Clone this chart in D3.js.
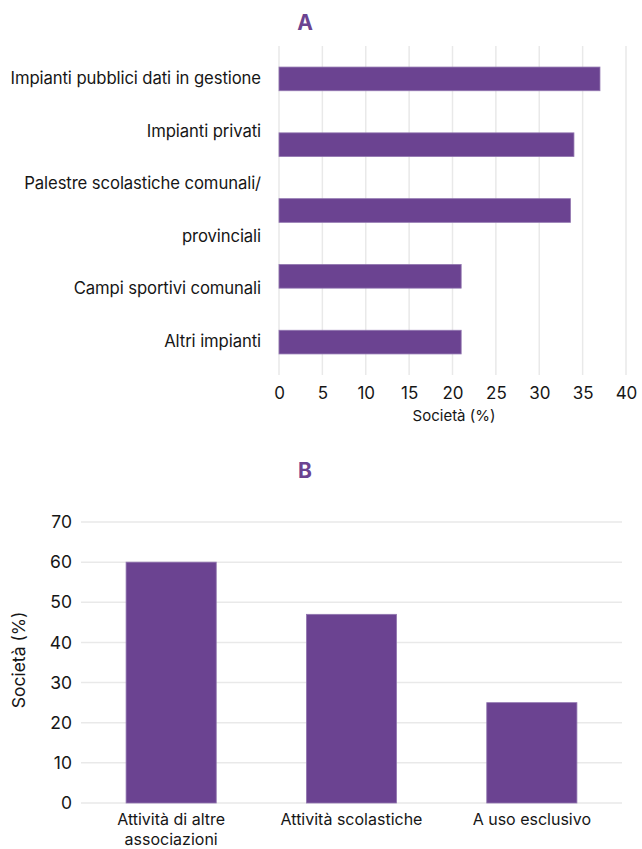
<!DOCTYPE html>
<html>
<head>
<meta charset="utf-8">
<script src="https://cdn.jsdelivr.net/npm/d3@7"></script>
<style>
  html, body { margin: 0; padding: 0; background: #fff; }
  svg { display: block; font-family: Inter, "Noto Sans", sans-serif; }
</style>
</head>
<body>
<svg id="chart" width="642" height="849"></svg>
<script>
// Panel A: facility types used by the clubs
const facilityLabels = [
  ["Impianti pubblici dati in gestione"],
  ["Impianti privati"],
  ["Palestre scolastiche comunali/", "provinciali"],
  ["Campi sportivi comunali"],
  ["Altri impianti"]
];
const facilityValues = [37, 34, 33.6, 21, 21];
const facilityTicks = [0, 5, 10, 15, 20, 25, 30, 35, 40];

// Panel B: type of use
const useLabels = [
  ["Attività di altre", "associazioni"],
  ["Attività scolastiche"],
  ["A uso esclusivo"]
];
const useValues = [60, 47, 25];
const useTicks = [0, 10, 20, 30, 40, 50, 60, 70];

const axisTitle = "Società (%)";

const barColor = "#6b4391";
const barEdge = "#9277b0";
const gridColor = "#e9e9e9";
const textColor = "#161616";

const svg = d3.select("#chart");

// ---------- Panel A ----------
const gA = svg.append("g");
gA.append("text")
  .attr("x", 305).attr("y", 30)
  .attr("text-anchor", "middle")
  .attr("font-size", 21).attr("font-weight", 700)
  .attr("fill", barColor)
  .text("A");

const xA = d3.scaleLinear().domain([0, 40]).range([279, 626]);
const yA = d3.scaleBand()
  .domain(d3.range(facilityValues.length))
  .range([46, 375])
  .paddingInner(0.64).paddingOuter(0.32);

gA.append("g").selectAll("line")
  .data(facilityTicks).join("line")
  .attr("x1", d => xA(d)).attr("x2", d => xA(d))
  .attr("y1", 46).attr("y2", 375)
  .attr("stroke", gridColor).attr("stroke-width", 1.5);

gA.append("g").selectAll("rect")
  .data(facilityValues).join("rect")
  .attr("x", xA(0))
  .attr("y", (d, i) => yA(i))
  .attr("width", d => xA(d) - xA(0))
  .attr("height", yA.bandwidth())
  .attr("fill", barColor)
  .attr("stroke", barEdge).attr("stroke-width", 0.8);

// category labels are stacked evenly as one text column
const labelLines = facilityLabels.flat();
const lineY = d3.scalePoint()
  .domain(d3.range(labelLines.length))
  .range([yA(0) + yA.bandwidth() / 2, yA(facilityValues.length - 1) + yA.bandwidth() / 2]);
gA.append("g").selectAll("text")
  .data(labelLines).join("text")
  .attr("x", 261)
  .attr("y", (d, i) => lineY(i))
  .attr("dy", "0.3em")
  .attr("text-anchor", "end")
  .attr("font-size", 16.7)
  .attr("letter-spacing", -0.1)
  .attr("fill", textColor)
  .text(d => d);

const axA = gA.append("g")
  .attr("transform", "translate(0,375)")
  .call(d3.axisBottom(xA).tickValues(facilityTicks).tickSize(0).tickPadding(12));
axA.select(".domain").remove();
axA.selectAll("text")
  .attr("font-size", 17).attr("fill", textColor)
  .attr("font-family", "Inter, sans-serif");

gA.append("text")
  .attr("x", 454).attr("y", 421)
  .attr("text-anchor", "middle")
  .attr("font-size", 15).attr("fill", textColor)
  .text(axisTitle);

// ---------- Panel B ----------
const gB = svg.append("g");
gB.append("text")
  .attr("x", 305).attr("y", 478)
  .attr("text-anchor", "middle")
  .attr("font-size", 21).attr("font-weight", 700)
  .attr("fill", barColor)
  .text("B");

const xB = d3.scaleBand()
  .domain(d3.range(useValues.length))
  .range([81, 622])
  .paddingInner(0.5).paddingOuter(0.25);
const yB = d3.scaleLinear().domain([0, 70]).range([803, 522]);

gB.append("g").selectAll("line")
  .data(useTicks).join("line")
  .attr("x1", 81).attr("x2", 622)
  .attr("y1", d => yB(d)).attr("y2", d => yB(d))
  .attr("stroke", gridColor).attr("stroke-width", 1.5);

gB.append("g").selectAll("rect")
  .data(useValues).join("rect")
  .attr("x", (d, i) => xB(i))
  .attr("y", d => yB(d))
  .attr("width", xB.bandwidth())
  .attr("height", d => yB(0) - yB(d))
  .attr("fill", barColor)
  .attr("stroke", barEdge).attr("stroke-width", 0.8);

const axB = gB.append("g")
  .attr("transform", "translate(72,0)")
  .call(d3.axisLeft(yB).tickValues(useTicks).tickSize(0).tickPadding(0));
axB.select(".domain").remove();
axB.selectAll("text")
  .attr("font-size", 17.5).attr("fill", textColor)
  .attr("font-family", "Inter, sans-serif");

const catB = gB.append("g").selectAll("text")
  .data(useLabels).join("text")
  .attr("x", (d, i) => xB(i) + xB.bandwidth() / 2)
  .attr("y", 825)
  .attr("text-anchor", "middle")
  .attr("font-size", 16)
  .attr("fill", textColor);
catB.selectAll("tspan")
  .data(d => d).join("tspan")
  .attr("x", function () { return d3.select(this.parentNode).attr("x"); })
  .attr("dy", (d, i) => i === 0 ? 0 : 19.5)
  .text(d => d);

gB.append("text")
  .attr("transform", "translate(25,660) rotate(-90)")
  .attr("text-anchor", "middle")
  .attr("font-size", 17.5).attr("fill", textColor)
  .text(axisTitle);
</script>
</body>
</html>
